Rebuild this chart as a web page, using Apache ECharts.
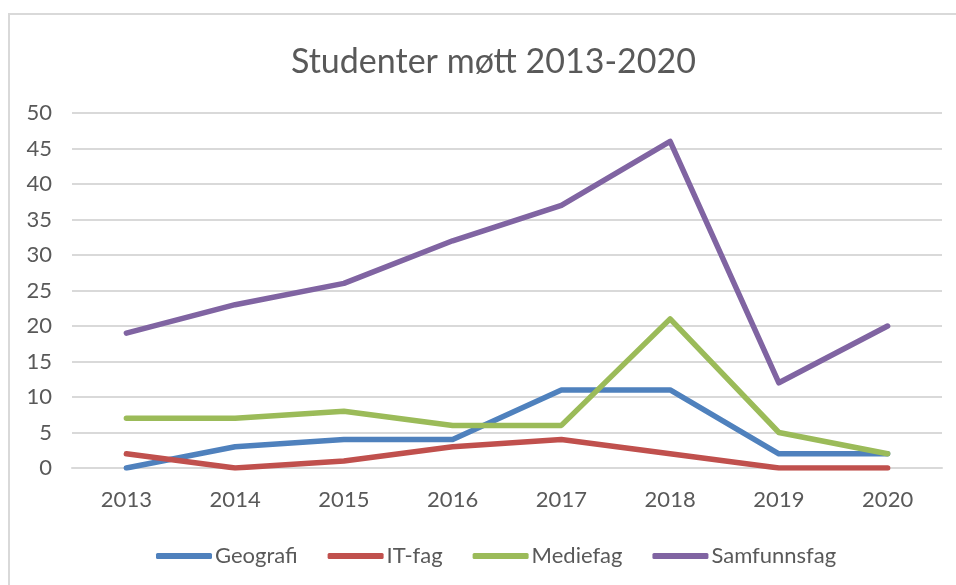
<!DOCTYPE html>
<html>
<head>
<meta charset="utf-8">
<script src="https://cdn.jsdelivr.net/npm/echarts@6/dist/echarts.min.js"></script>
<style>
  html, body { margin: 0; padding: 0; background: #fff; }
  #chart { width: 956px; height: 585px; }
</style>
</head>
<body>
<div id="chart"></div>
<script>
const years = ['2013', '2014', '2015', '2016', '2017', '2018', '2019', '2020'];
const geografi = [0, 3, 4, 4, 11, 11, 2, 2];
const itFag = [2, 0, 1, 3, 4, 2, 0, 0];
const mediefag = [7, 7, 8, 6, 6, 21, 5, 2];
const samfunnsfag = [19, 23, 26, 32, 37, 46, 12, 20];

const font = 'Lato, "Open Sans", sans-serif';
const textColor = '#595959';

const myChart = echarts.init(document.getElementById('chart'));

function line(name, data, color) {
  return {
    name: name,
    type: 'line',
    data: data,
    symbol: 'none',
    lineStyle: { width: 5.5, color: color, cap: 'round', join: 'round' },
    itemStyle: { color: color }
  };
}

myChart.setOption({
  animation: false,
  title: {
    text: 'Studenter møtt 2013-2020',
    left: 286,
    top: 40,
    textStyle: { fontFamily: font, fontSize: 34, fontWeight: 'normal', color: textColor }
  },
  // outer frame, cut off at right and bottom like the screenshot
  graphic: [{
    type: 'rect',
    shape: { x: 9, y: 14, width: 960, height: 600 },
    style: { fill: null, stroke: '#d9d9d9', lineWidth: 2 },
    silent: true
  }],
  legend: {
    top: 540,
    left: 151,
    icon: 'roundRect',
    itemWidth: 56,
    itemHeight: 6,
    itemGap: 30,
    textStyle: { fontFamily: font, fontSize: 22, color: textColor, padding: [0, 0, 0, -2] }
  },
  grid: { left: 72, right: 14, top: 113, bottom: 117, containLabel: false },
  xAxis: {
    type: 'category',
    data: years,
    boundaryGap: true,
    axisLine: { show: true, lineStyle: { color: '#d9d9d9', width: 2 } },
    axisTick: { show: false },
    axisLabel: { margin: 21, fontFamily: font, fontSize: 22, color: textColor }
  },
  yAxis: {
    type: 'value',
    min: 0,
    max: 50,
    interval: 5,
    axisLine: { show: false },
    axisTick: { show: false },
    axisLabel: { margin: 20, fontFamily: font, fontSize: 22, color: textColor },
    splitLine: { lineStyle: { color: '#d9d9d9', width: 2 } }
  },
  series: [
    line('Geografi', geografi, '#4f81bd'),
    line('IT-fag', itFag, '#c0504d'),
    line('Mediefag', mediefag, '#9bbb59'),
    line('Samfunnsfag', samfunnsfag, '#8064a2')
  ]
});
</script>
</body>
</html>
